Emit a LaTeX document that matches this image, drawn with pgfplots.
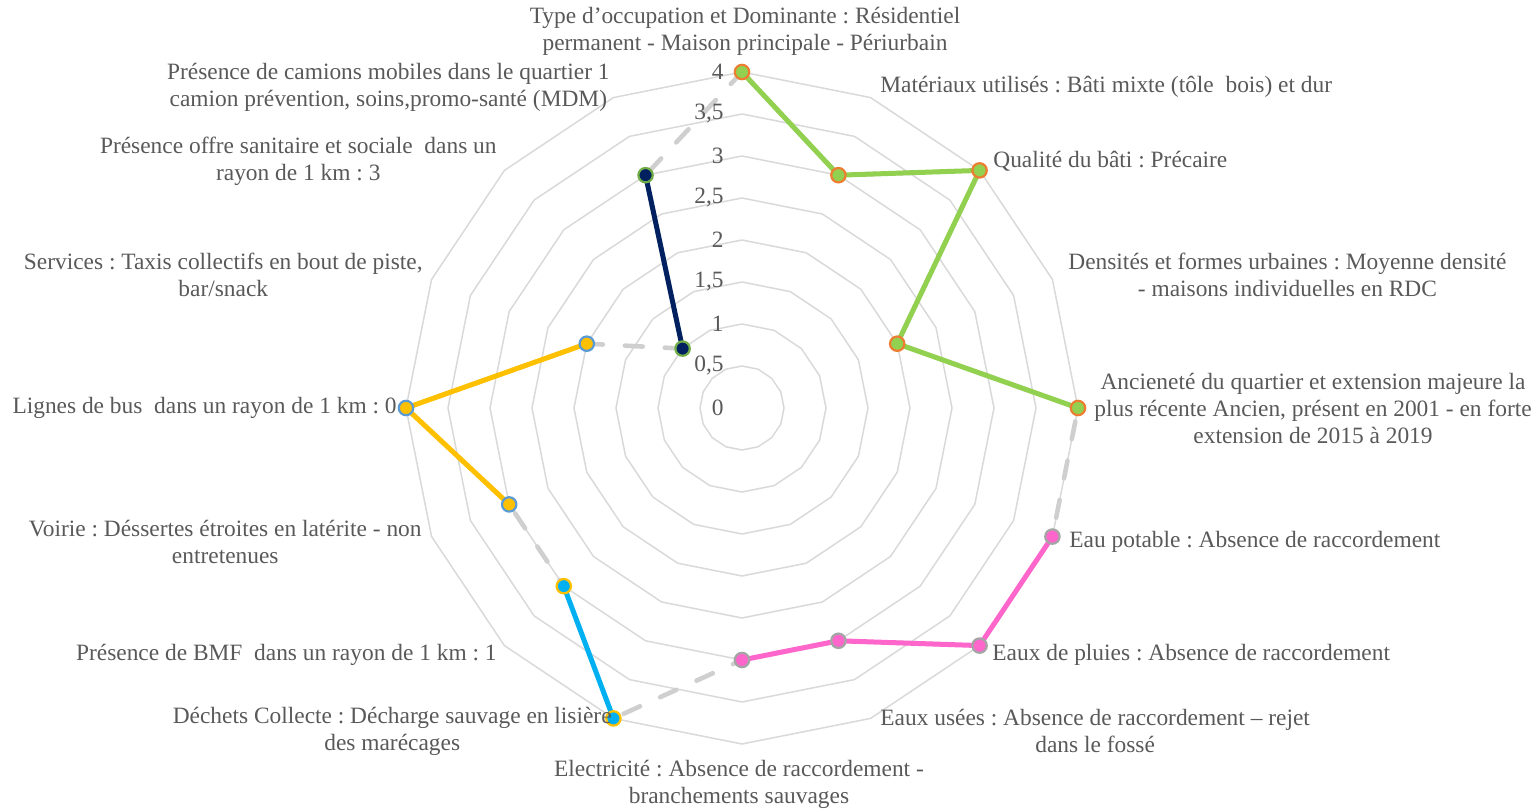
\documentclass[border=0pt]{standalone}
\usepackage{pgfplots}
\pgfplotsset{compat=1.18}
\usepgfplotslibrary{polar}
\usepackage{fontspec}
\setmainfont{Liberation Serif}
\frenchspacing

\definecolor{txt}{HTML}{595959}
\definecolor{ring}{HTML}{D9D9D9}
\definecolor{tirets}{HTML}{CFCFCF}
\definecolor{vert}{HTML}{92D050}
\definecolor{orangeb}{HTML}{ED7D31}
\definecolor{rose}{HTML}{FF66CC}
\definecolor{grisb}{HTML}{A5A5A5}
\definecolor{cyanb}{HTML}{00B0F0}
\definecolor{jaune}{HTML}{FFC000}
\definecolor{bleub}{HTML}{5B9BD5}
\definecolor{marine}{HTML}{002060}
\definecolor{vertb}{HTML}{70AD47}

\begin{document}
\begin{tikzpicture}
\begin{polaraxis}[
    hide axis,
    scale only axis,
    width=336pt, height=336pt,
    ymin=0, ymax=4,
    clip=false,
    serie/.style n args={2}{color=#1, line width=2.5pt, mark=*,
        mark size=3.6pt, mark options={fill=#1, draw=#2, line width=1.1pt}},
]
% 16-sided grid rings, every 0.5
\pgfplotsinvokeforeach{0.5,1,...,4}{
    \addplot[ring, line width=0.75pt, no marks] coordinates {(90,#1) (67.5,#1) (45,#1)
      (22.5,#1) (0,#1) (-22.5,#1) (-45,#1) (-67.5,#1) (-90,#1) (-112.5,#1) (-135,#1)
      (-157.5,#1) (-180,#1) (-202.5,#1) (-225,#1) (-247.5,#1) (-270,#1)};
}
% full profile, grey long dashes
\addplot[tirets, line width=2.3pt, line cap=round, dash pattern=on 9pt off 11pt, no marks]
    coordinates {(90,4) (67.5,3) (45,4) (22.5,2) (0,4) (-22.5,4) (-45,4) (-67.5,3)
    (-90,3) (-112.5,4) (-135,3) (-157.5,3) (-180,4) (-202.5,2) (-225,1) (-247.5,3) (-270,4)};
% habitat
\addplot[serie={vert}{orangeb}] coordinates {(90,4) (67.5,3) (45,4) (22.5,2) (0,4)};
% réseaux
\addplot[serie={rose}{grisb}] coordinates {(-22.5,4) (-45,4) (-67.5,3) (-90,3)};
% déchets / BMF
\addplot[serie={cyanb}{jaune}] coordinates {(-112.5,4) (-135,3)};
% mobilité
\addplot[serie={jaune}{bleub}] coordinates {(-157.5,3) (-180,4) (-202.5,2)};
% offre sanitaire
\addplot[serie={marine}{vertb}] coordinates {(-225,1) (-247.5,3)};
\coordinate (O) at (axis cs:0,0);
\end{polaraxis}

\begin{scope}[shift={(O)}, xshift=-371pt, yshift=204pt, x=0.5pt, y=-0.5pt,
    every node/.style={text=txt, font=\fontsize{11.7}{13.5}\selectfont, inner sep=0pt, align=center}]
% radial tick labels
\node[anchor=east] at (724,408) {0};
\node[anchor=east] at (724,366) {0,5};
\node[anchor=east] at (724,324) {1};
\node[anchor=east] at (724,282) {1,5};
\node[anchor=east] at (724,240) {2};
\node[anchor=east] at (724,198) {2,5};
\node[anchor=east] at (724,156) {3};
\node[anchor=east] at (724,114) {3,5};
\node[anchor=east] at (724,72) {4};
% category labels
\node[anchor=center] at (745,31.5) {Type d’occupation et Dominante : Résidentiel\\permanent - Maison principale - Périurbain};
\node[anchor=west] at (880,87) {Matériaux utilisés : Bâti mixte (tôle\ \ bois) et dur};
\node[anchor=west] at (993,161) {Qualité du bâti : Précaire};
\node[anchor=west] at (1068,274.5) {Densités et formes urbaines : Moyenne densité\\- maisons individuelles en RDC};
\node[anchor=west] at (1094,408) {Ancieneté du quartier et extension majeure la\\plus récente Ancien, présent en 2001 - en forte\\extension de 2015 à 2019};
\node[anchor=west] at (1069,542) {Eau potable : Absence de raccordement};
\node[anchor=west] at (992,655) {Eaux de pluies : Absence de raccordement};
\node[anchor=west] at (880,730.5) {Eaux usées : Absence de raccordement – rejet\\dans le fossé};
\node[anchor=center] at (739,784.5) {Electricité : Absence de raccordement -\\branchements sauvages};
\node[anchor=east] at (612,731) {Déchets Collecte : Décharge sauvage en lisière\\des marécages};
\node[anchor=east] at (497,655) {Présence de BMF\ \ dans un rayon de 1 km : 1};
\node[anchor=east] at (422,541.5) {Voirie : Déssertes étroites en latérite - non\\entretenues};
\node[anchor=east] at (397,408) {Lignes de bus\ \ dans un rayon de 1 km : 0};
\node[anchor=east] at (423,274.5) {Services : Taxis collectifs en bout de piste,\\bar/snack};
\node[anchor=east] at (497,161.5) {Présence offre sanitaire et sociale\ \ dans un\\rayon de 1 km : 3};
\node[anchor=east] at (610,87) {Présence de camions mobiles dans le quartier 1\\camion prévention, soins,promo-santé (MDM)};
\pgfresetboundingbox
\path[use as bounding box] (0,0) rectangle (1538,812);
\end{scope}
\end{tikzpicture}
\end{document}
